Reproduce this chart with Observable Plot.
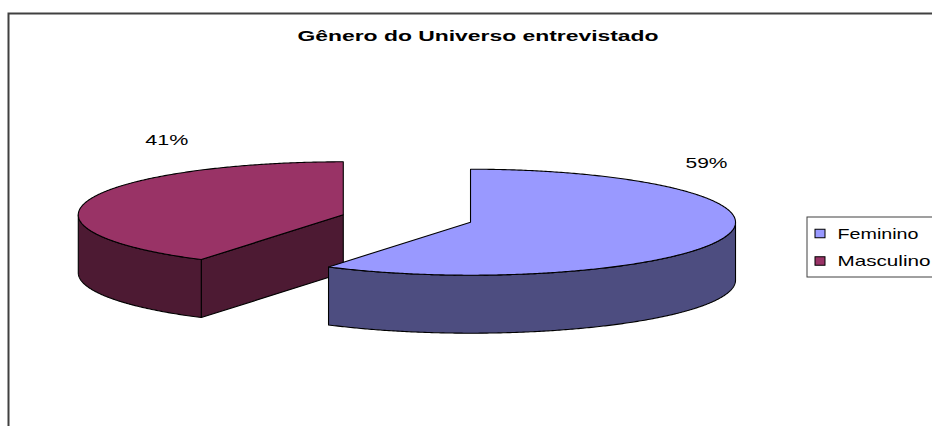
<!DOCTYPE html>
<html>
<head>
<meta charset="utf-8">
<script src="https://cdn.jsdelivr.net/npm/d3@7"></script>
<script src="https://cdn.jsdelivr.net/npm/@observablehq/plot@0.6"></script>
<style>
  html, body { margin: 0; padding: 0; background: #ffffff; }
  #chart svg { display: block; }
</style>
</head>
<body>
<div id="chart"></div>
<script>
// ---- data ----
const title = "Gênero do Universo entrevistado";
const categories = ["Feminino", "Masculino"];
const values = [59, 41];
const valueLabels = ["59%", "41%"];
const topColors = ["#9999FF", "#993366"];
const sideColors = ["#4D4D80", "#4D1A33"];

// ---- layout (pixels) ----
const W = 932, H = 426;
const P = { cx: 406.4, cy: 218, rx: 265, ry: 53, depth: 58, explode: 0.25 };
const labelOffset = [[236, -59.5], [-176.5, -74.5]];   // relative to each exploded slice centre
const legend = { x1: 807, y1: 217, y2: 277, swX: 815, swW: 10, swH: 8.5, textX: 837, rowY: [233.5, 261] };
const font = "'Liberation Sans', Arial, sans-serif";
const textWidths = { [title]: 361, "41%": 43, "59%": 42, "Feminino": 81, "Masculino": 93 };

// ---- 3D pie geometry from the values ----
const arcs = d3.pie().sort(null).startAngle(0).endAngle(2 * Math.PI)(values);
const slices = arcs.map((a, i) => {
  const mid = (a.startAngle + a.endAngle) / 2;
  return {
    i, a0: a.startAngle, a1: a.endAngle,
    cx: P.cx + P.explode * P.rx * Math.sin(mid),
    cy: P.cy - P.explode * P.ry * Math.cos(mid)
  };
});
const pt = (s, t, z = 0) => [s.cx + P.rx * Math.sin(t), s.cy - P.ry * Math.cos(t) + z];
const arcPts = (s, t0, t1, z = 0) => {
  const n = Math.max(2, Math.ceil(Math.abs(t1 - t0) / (Math.PI / 360)));
  return d3.range(n + 1).map(k => pt(s, t0 + (t1 - t0) * k / n, z));
};

const rows = [];
let pid = 0;
function addPoly(points, fill) {
  const id = pid++;
  for (const [x, y] of points) rows.push({ id, x, y, fill });
}
// back-to-front ordering of slices
const order = [...slices].sort((a, b) => a.cy - b.cy);
for (const s of order) {
  const side = sideColors[s.i], top = topColors[s.i];
  const c = [s.cx, s.cy], cd = [s.cx, s.cy + P.depth];
  if (Math.sin(s.a0) < -1e-6) {
    addPoly([c, pt(s, s.a0), pt(s, s.a0, P.depth), cd], side);
  }
  if (Math.sin(s.a1) > 1e-6) {
    addPoly([c, pt(s, s.a1), pt(s, s.a1, P.depth), cd], side);
  }
  const lo = Math.max(s.a0, Math.PI / 2), hi = Math.min(s.a1, 3 * Math.PI / 2);
  if (hi > lo) {
    addPoly([...arcPts(s, lo, hi), ...arcPts(s, hi, lo, P.depth)], side);
  }
  addPoly([c, ...arcPts(s, s.a0, s.a1)], top);
}

const labelData = slices.map(s => ({
  text: valueLabels[s.i],
  x: s.cx + labelOffset[s.i][0],
  y: s.cy + labelOffset[s.i][1]
}));
const legendData = categories.map((name, k) => ({ name, color: topColors[k], y: legend.rowY[k] }));

const chart = Plot.plot({
  width: W, height: H,
  margin: 0,
  x: { domain: [0, W], range: [0, W], axis: null },
  y: { domain: [0, H], range: [0, H], axis: null },
  color: { type: "identity" },
  style: { background: "#ffffff", fontFamily: font },
  marks: [
    Plot.frame({ stroke: "#404040", strokeWidth: 2, insetLeft: 8, insetTop: 13, insetRight: -6, insetBottom: -6 }),
    Plot.text([title], { text: d => d, frameAnchor: "top-left", dx: 297, dy: 37.2 - 7.5, textAnchor: "start",
      fontSize: 15, fontWeight: "bold", fill: "#000" }),
    Plot.line(rows, { x: "x", y: "y", z: "id", fill: "fill", stroke: "#000", strokeWidth: 1.1,
      curve: "linear-closed", strokeLinejoin: "round" }),
    Plot.text(labelData, { x: "x", y: "y", text: "text", fontSize: 15, fill: "#000" }),
    Plot.rect([0], { x1: legend.x1, x2: W + 6, y1: legend.y1, y2: legend.y2, fill: "#fff", stroke: "#404040", strokeWidth: 1 }),
    Plot.rect(legendData, { x1: legend.swX, x2: legend.swX + legend.swW,
      y1: d => d.y - legend.swH / 2, y2: d => d.y + legend.swH / 2, fill: "color", stroke: "#000", strokeWidth: 1 }),
    Plot.text(legendData, { x: legend.textX, y: "y", text: "name", textAnchor: "start", fontSize: 15, fill: "#000" })
  ]
});
document.getElementById("chart").appendChild(chart);

// stretch the texts horizontally like the reference (wide, stretched Excel chart)
d3.select(chart).selectAll("text").each(function () {
  const t = this.textContent;
  if (textWidths[t]) {
    d3.select(this).attr("textLength", textWidths[t]).attr("lengthAdjust", "spacingAndGlyphs");
  }
});
</script>
</body>
</html>
